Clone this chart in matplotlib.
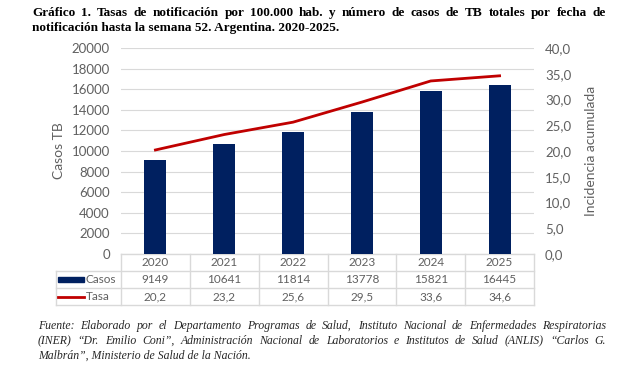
import matplotlib
matplotlib.use("Agg")
import matplotlib.pyplot as plt
from matplotlib.lines import Line2D
from matplotlib.patches import Rectangle

years = ["2020", "2021", "2022", "2023", "2024", "2025"]
casos = [9149, 10641, 11814, 13778, 15821, 16445]
tasa = [20.2, 23.2, 25.6, 29.5, 33.6, 34.6]

navy = "#002060"
red = "#C00000"
gray = "#606060"
grid = "#D9D9D9"
sans = ["Lato", "DejaVu Sans"]
serif = ["Liberation Serif", "DejaVu Serif"]

fig = plt.figure(figsize=(6.2, 3.79), dpi=100)
ax = fig.add_axes([121 / 620, 1 - 254 / 379, 413 / 620, 206 / 379])
ax2 = ax.twinx()

x = list(range(len(years)))
ax.bar(x, casos, width=0.32, color=navy, zorder=3)
ax2.plot(x, tasa, color=red, lw=2, zorder=4)

ax.set_xlim(-0.5, len(years) - 0.5)
ax.set_ylim(0, 20000)
ax.set_yticks(range(0, 20001, 2000))
ax2.set_ylim(0, 40)
ax2.set_yticks(range(0, 41, 5))
ax2.set_yticklabels([f"{v:.1f}".replace(".", ",") for v in range(0, 41, 5)])
ax.grid(axis="y", color=grid, lw=0.8, zorder=0)
ax.set_xticks([])
for a in (ax, ax2):
    for s in a.spines.values():
        s.set_visible(False)
    a.tick_params(axis="y", length=0, colors=gray, labelsize=9.5, pad=8)
    for lab in a.get_yticklabels():
        lab.set_family(sans)
ax.set_ylabel("Casos TB", color=gray, fontsize=10, family=sans, labelpad=5)
ax2.set_ylabel("Incidencia acumulada", color=gray, fontsize=10, family=sans, labelpad=10)

# tabla de datos debajo del grafico
rh = 17 / 206
xl = -0.5
leg_left = xl - (121 - 56) / 413 * 6
lc = "#D9D9D9"
tr = ax.get_xaxis_transform()
rows = [("", years), ("Casos", [str(v) for v in casos]), ("Tasa", [f"{v:.1f}".replace(".", ",") for v in tasa])]
for r, (label, vals) in enumerate(rows):
    y0 = -r * rh
    y1 = y0 - rh
    for i, v in enumerate(vals):
        ax.text(i, (y0 + y1) / 2, v, transform=tr, ha="center", va="center",
                fontsize=8.5, color=gray, family=sans, clip_on=False)
    if label:
        ax.text(leg_left + 0.43, (y0 + y1) / 2, label, transform=tr, ha="left", va="center",
                fontsize=8.5, color=gray, family=sans, clip_on=False)
# lineas horizontales
ax.add_line(Line2D([xl, 5.5], [0, 0], transform=tr, color=lc, lw=1, clip_on=False))
for r in range(1, 4):
    ax.add_line(Line2D([leg_left, 5.5], [-r * rh, -r * rh], transform=tr, color=lc, lw=1, clip_on=False))
# lineas verticales
for xv in [xl + k for k in range(7)]:
    ax.add_line(Line2D([xv, xv], [0, -3 * rh], transform=tr, color=lc, lw=1, clip_on=False))
ax.add_line(Line2D([leg_left, leg_left], [-rh, -3 * rh], transform=tr, color=lc, lw=1, clip_on=False))
# claves de leyenda
ax.add_patch(Rectangle((leg_left + 0.03, -1.5 * rh - 0.012), 0.37, 0.024, transform=tr,
                       color=navy, clip_on=False))
ax.add_line(Line2D([leg_left + 0.03, leg_left + 0.4], [-2.5 * rh, -2.5 * rh], transform=tr,
                   color=red, lw=2, clip_on=False))


def justify(lines, x0, x1, ys, **kw):
    r = fig.canvas.get_renderer()
    W = fig.bbox.width
    for k, (line, y) in enumerate(zip(lines, ys)):
        words = line.split(" ")
        if k == len(lines) - 1:
            fig.text(x0 / W, y, line, ha="left", va="baseline", **kw)
            continue
        ts = [fig.text(0, y, w, ha="left", va="baseline", **kw) for w in words]
        widths = [t.get_window_extent(r).width for t in ts]
        gap = (x1 - x0 - sum(widths)) / (len(words) - 1)
        pos = x0
        for t, w in zip(ts, widths):
            t.set_x(pos / W)
            pos += w + gap


justify(["Gráfico 1. Tasas de notificación por 100.000 hab. y número de casos de TB totales por fecha de",
         "notificación hasta la semana 52. Argentina. 2020-2025."],
        32, 606, [1 - 16 / 379, 1 - 31 / 379],
        fontsize=9.5, weight="bold", family=serif, color="black")

justify(["Fuente: Elaborado por el Departamento Programas de Salud, Instituto Nacional de Enfermedades Respiratorias",
         "(INER) “Dr. Emilio Coni”, Administración Nacional de Laboratorios e Institutos de Salud (ANLIS) “Carlos G.",
         "Malbrán”, Ministerio de Salud de la Nación."],
        38, 606, [1 - 329 / 379, 1 - 344 / 379, 1 - 359 / 379],
        fontsize=8.5, style="italic", family=serif, color="#262626")

fig.savefig("out.png", dpi=100)
